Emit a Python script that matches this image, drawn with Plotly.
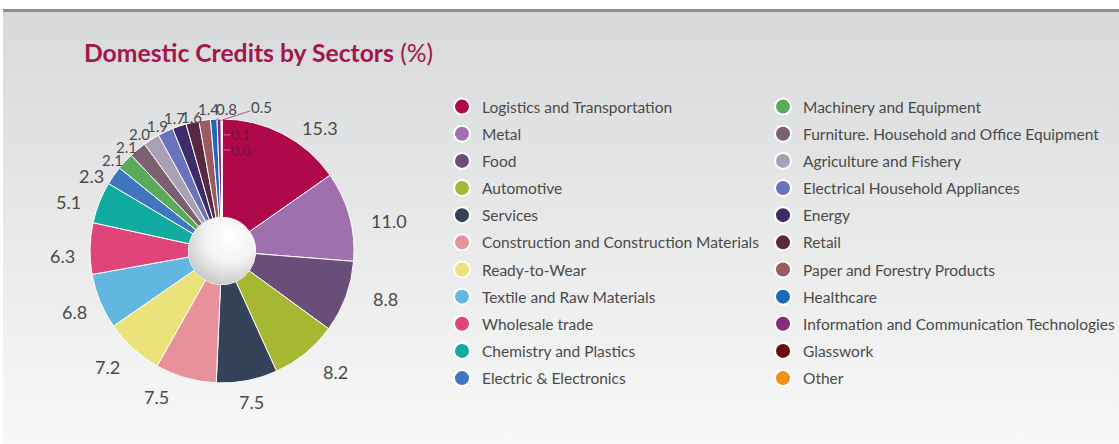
import base64
import math
import plotly.graph_objects as go

categories = [
    "Logistics and Transportation", "Metal", "Food", "Automotive", "Services",
    "Construction and Construction Materials", "Ready-to-Wear", "Textile and Raw Materials",
    "Wholesale trade", "Chemistry and Plastics", "Electric & Electronics",
    "Machinery and Equipment", "Furniture. Household and Office Equipment",
    "Agriculture and Fishery", "Electrical Household Appliances", "Energy", "Retail",
    "Paper and Forestry Products", "Healthcare", "Information and Communication Technologies",
    "Glasswork", "Other",
]
values = [15.3, 11.0, 8.8, 8.2, 7.5, 7.5, 7.2, 6.8, 6.3, 5.1, 2.3,
          2.1, 2.1, 2.0, 1.9, 1.7, 1.6, 1.4, 0.8, 0.5, 0.1, 0.0]
colors = [
    "#b0094a", "#a070ae", "#6a4e7a", "#a6b832", "#34435a", "#e8919a", "#ece27a",
    "#62b7e0", "#e0457a", "#11aaa0", "#3f76c0", "#5aaa5a", "#7a6070", "#a9a0b5",
    "#6a72be", "#3e2c6a", "#5a2840", "#9a5a60", "#1a6ab8", "#8a2a7a", "#6a0a10", "#f0901a",
]

W, H = 1119, 444
cx, cy, R = 222, 251, 132          # pie centre / radius in pixels
HOLE = 0.255

def px(x):
    return x / W

def py(y):
    return 1 - y / H

bg_svg = f'''<svg xmlns="http://www.w3.org/2000/svg" width="{W}" height="{H}" viewBox="0 0 {W} {H}" preserveAspectRatio="none">
<defs><linearGradient id="g" x1="0" y1="0" x2="0" y2="1">
<stop offset="0" stop-color="#d8d9da"/><stop offset="1" stop-color="#f9f9f9"/></linearGradient></defs>
<rect x="0" y="0" width="{W}" height="{H}" fill="#ffffff"/>
<rect x="3" y="11" width="{W}" height="{H}" fill="url(#g)"/>
<rect x="3" y="9" width="{W}" height="3" fill="#8e8e8e"/>
</svg>'''
hole_svg = '''<svg xmlns="http://www.w3.org/2000/svg" width="100" height="100" viewBox="0 0 100 100">
<defs><radialGradient id="r" cx="0.62" cy="0.3" r="0.75">
<stop offset="0" stop-color="#ffffff"/><stop offset="0.5" stop-color="#f3f3f3"/><stop offset="1" stop-color="#c6c6c6"/></radialGradient></defs>
<circle cx="50" cy="50" r="50" fill="url(#r)"/></svg>'''

def uri(s):
    return "data:image/svg+xml;base64," + base64.b64encode(s.encode()).decode()

fig = go.Figure()

fig.add_trace(go.Pie(
    labels=categories, values=values, sort=False, direction="clockwise", rotation=0,
    hole=HOLE, marker=dict(colors=colors, line=dict(color="white", width=1)),
    textinfo="none", showlegend=False, hoverinfo="label+value", automargin=False,
    domain=dict(x=[px(cx - R), px(cx + R)], y=[py(cy + R), py(cy - R)]),
))

# value labels placed round the pie at each slice's mid angle
total = sum(values)
label_font = dict(family="Lato", size=18, color="#4a4a4a")
small_font = dict(family="Lato", size=15, color="#4a4a4a")
# (angle nudge in degrees, label radius in px) for labels spread to avoid overlap
spread = {0: (11, 157), 1: (5, 170), 2: (-4, 170), 3: (-4, 166), 4: (0, 154), 5: (8, 160),
          6: (2, 163), 8: (-3, 160), 9: (-4, 161), 10: (-5, 150),
          11: (-3, 143), 12: (-3, 141), 13: (-3, 143), 14: (-2, 141), 15: (-1, 141),
          16: (0, 138), 17: (2, 143)}
# leader-line labels: (dx, dy) text offset in px, radius factor of line tip
leaders = {18: (11, -12, 0.99), 19: (40, -13, 0.99), 20: (17, 0, 0.88), 21: (17, 0, 0.765)}
cum = 0.0
annotations = []
for i, v in enumerate(values):
    mid = (cum + v / 2) / total * 360
    cum += v
    text = f"{v:.1f}"
    if i in leaders:
        ax, ay, f = leaders[i]
        a = math.radians(mid)
        tx, ty = cx + R * f * math.sin(a) + 2, cy - R * f * math.cos(a)
        inside = f < 0.95
        annotations.append(dict(
            text=text, x=px(tx), y=py(ty), xref="paper", yref="paper",
            showarrow=True, arrowhead=0, arrowwidth=1,
            arrowcolor="#c0507a" if not inside else "#e06090",
            ax=ax, ay=ay, axref="pixel", ayref="pixel",
            font=dict(small_font, color="#6a1838", size=14) if inside else small_font,
            standoff=0, borderpad=0,
        ))
        continue
    nudge, rad = spread.get(i, (0, 160))
    a = math.radians(mid + nudge)
    lx, ly = cx + rad * math.sin(a), cy - rad * math.cos(a)
    annotations.append(dict(text=text, x=px(lx), y=py(ly), xref="paper", yref="paper",
                            showarrow=False, xanchor="center", yanchor="middle",
                            font=small_font if i >= 11 else label_font))

for i, (c, col) in enumerate(zip(categories, colors)):
    fig.add_trace(go.Scatter(
        x=[None], y=[None], mode="markers", name=c,
        marker=dict(size=16, color=col, line=dict(color="white", width=2)),
        legend="legend" if i < 11 else "legend2", legendgroup=f"g{i}",
    ))

legend_common = dict(
    bgcolor="rgba(0,0,0,0)", font=dict(family="Lato", size=15.5, color="#4a4a4a"),
    itemsizing="trace", tracegroupgap=4, traceorder="grouped",
    xanchor="left", yanchor="top", itemclick=False,
)

annotations.append(dict(
    text="<b>Domestic Credits by Sectors</b> (%)", xref="paper", yref="paper",
    x=px(82), y=py(52), xanchor="left", yanchor="middle", showarrow=False,
    font=dict(family="Lato", size=24.7, color="#a3164b"),
))

fig.update_layout(
    width=W, height=H, margin=dict(l=0, r=0, t=0, b=0, autoexpand=False),
    paper_bgcolor="white", plot_bgcolor="rgba(0,0,0,0)",
    xaxis=dict(visible=False), yaxis=dict(visible=False),
    legend=dict(x=px(442), y=py(90), **legend_common),
    legend2=dict(x=px(763), y=py(90), **legend_common),
    images=[
        dict(source=uri(bg_svg), xref="paper", yref="paper", x=0, y=1, sizex=1, sizey=1,
             sizing="stretch", xanchor="left", yanchor="top", layer="below"),
        dict(source=uri(hole_svg), xref="paper", yref="paper", x=px(cx), y=py(cy),
             sizex=2 * R * HOLE / W, sizey=2 * R * HOLE / H, sizing="stretch",
             xanchor="center", yanchor="middle", layer="above"),
    ],
    annotations=annotations,
)

fig.write_html("out.html", config={"displayModeBar": False},
               post_script="document.body.style.margin='0px';document.body.style.overflow='hidden';")
